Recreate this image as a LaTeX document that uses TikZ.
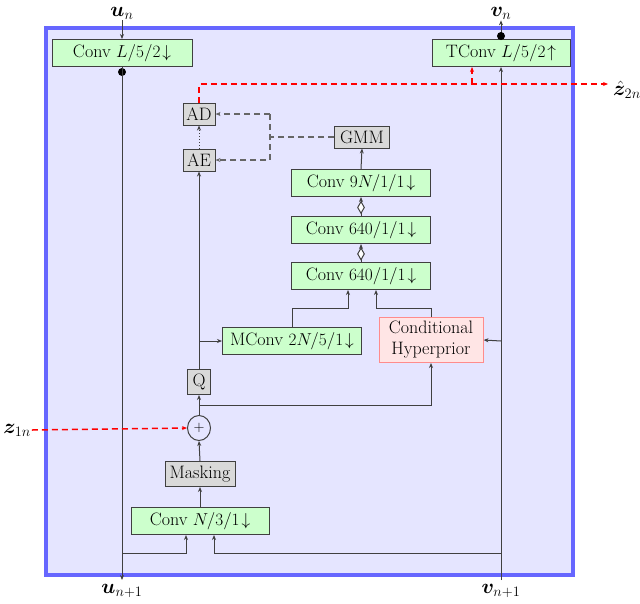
\documentclass[tikz,border=0pt]{standalone}
\usepackage{amsmath,bm}
\usetikzlibrary{arrows.meta,shapes.geometric}
\begin{document}
\begin{tikzpicture}[x=1pt,y=-1pt,font=\fontsize{18}{21}\selectfont,
 >={Stealth[length=5pt,width=4pt]},
 gbox/.style={draw=black!75,fill=green!20,line width=1pt,minimum height=27pt,inner sep=1pt},
 ybox/.style={draw=black!75,fill=black!15,line width=1pt,inner sep=1pt,minimum width=32pt,minimum height=22pt},
 pbox/.style={draw=red!45,fill=red!10,line width=1pt,align=center,inner sep=1pt},
 ln/.style={black!75,line width=1pt},
 rd/.style={red,dash pattern=on 6pt off 4pt,line width=1.5pt},
 gd/.style={black!60,dash pattern=on 6pt off 4pt,line width=1.2pt},
 lab/.style={font=\fontsize{21}{24}\selectfont,inner sep=1pt}]
\useasboundingbox (0,0) rectangle (640,603);
\draw[draw=blue!60,fill=blue!10,line width=3.5pt] (46,28) rectangle (573,575);
\node[gbox,minimum width=140pt] (c1) at (122,53) {Conv $L/5/2\!\downarrow$};
\node[gbox,minimum width=138pt] (tc) at (501,53) {TConv $L/5/2\!\uparrow$};
\node[lab] (un) at (122,13) {$\bm{u}_n$};
\node[lab] (vn) at (501,13) {$\bm{v}_n$};
\node[lab] (un1) at (122,591) {$\bm{u}_{n+1}$};
\node[lab] (vn1) at (501,591) {$\bm{v}_{n+1}$};
\node[lab,anchor=west,inner sep=0pt] (z2) at (613,90) {$\hat{\bm{z}}_{2n}$};
\node[lab] (z1) at (17,430) {$\bm{z}_{1n}$};
\node[ybox] (ad) at (199,114) {AD};
\node[ybox] (ae) at (199,160) {AE};
\node[ybox,minimum width=55pt] (gmm) at (362,137) {GMM};
\node[gbox,minimum width=139pt] (c9) at (361,183) {Conv $9N/1/1\!\downarrow$};
\node[gbox,minimum width=139pt] (c6a) at (361,230) {Conv $640/1/1\!\downarrow$};
\node[gbox,minimum width=139pt] (c6b) at (361,276) {Conv $640/1/1\!\downarrow$};
\node[gbox,minimum width=139pt] (mc) at (292,341) {MConv $2N/5/1\!\downarrow$};
\node[pbox,minimum width=104pt,minimum height=45pt] (ch) at (431,340) {Conditional\\Hyperprior};
\node[ybox,minimum width=23pt,minimum height=25pt] (q) at (199,382) {Q};
\node[draw=black!75,ellipse,minimum width=23pt,minimum height=25pt,inner sep=0pt,line width=1pt] (pl) at (199,428) {\Large$+$};
\node[ybox,minimum width=70pt,minimum height=25pt] (mk) at (200,474) {Masking};
\node[gbox,minimum width=138pt] (cn) at (200,521) {Conv $N/3/1\!\downarrow$};
\coordinate (d1) at (122,72);
\coordinate (d2) at (501,36);
\draw[ln,->] (un.south) -- (c1.north);
\draw[ln,->] (tc.north) -- (vn.south);
\fill (d1) circle (4pt);
\fill (d2) circle (4pt);
\coordinate (ue) at (122,580);
\draw[ln,->] (c1.south) -- (ue);
\coordinate (ve) at (501,580);
\draw[ln,->] (ve) -- (tc.south);
\coordinate (r1) at (199,84);
\coordinate (r2) at (472,84);
\coordinate (r3) at (608,84);
\draw[rd,->] (ad.north) -- (r1) -- (r3);
\draw[rd,->] (r2) -- (r2|-tc.south);
\draw[rd,->] (z1.east) -- (pl.west);
\coordinate (g1) at (270,137);
\draw[gd] (gmm.west) -- (g1);
\draw[gd,->] (270,114) -- (ad.east);
\draw[gd,->] (270,114) -- (270,160) -- (ae.east);
\draw[ln,dotted,->] (ae.north) -- (ad.south);
\draw[ln,->] (c9.north) -- (gmm.south);
\draw[ln,->] (c6a.north) -- node[draw=black!75,diamond,fill=white,inner sep=0pt,minimum width=7pt,minimum height=12pt,pos=0.45,line width=1pt]{} (c9.south);
\draw[ln,->] (c6b.north) -- node[draw=black!75,diamond,fill=white,inner sep=0pt,minimum width=7pt,minimum height=12pt,pos=0.45,line width=1pt]{} (c6a.south);
\draw[ln,->] (mc.north) -- (292,308) -- (348,308) -- (348,290);
\draw[ln,->] (ch.north) -- (431,308) -- (376,308) -- (376,290);
\draw[ln,->] (501,341) -- (ch.east);
\draw[ln,->] (199,341) -- (mc.west);
\draw[ln,->] (q.north) -- (ae.south);
\draw[ln,->] (pl.north) -- (q.south);
\draw[ln,->] (199,405) -- (431,405) -- (ch.south);
\draw[ln,->] (mk.north) -- (pl.south);
\draw[ln,->] (cn.north) -- (mk.south);
\draw[ln,->] (122,553) -- (186,553) -- (186,535);
\draw[ln,->] (501,553) -- (214,553) -- (214,535);
\end{tikzpicture}
\end{document}
